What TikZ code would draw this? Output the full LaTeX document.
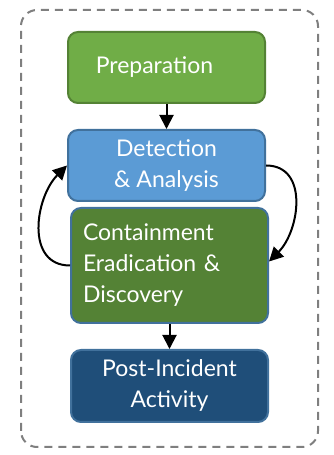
\documentclass[tikz,border=0pt]{standalone}
\usepackage{fontspec}
\setmainfont{Lato}
\usepackage{tikz}
\usetikzlibrary{calc,arrows.meta}
\definecolor{prepgreen}{HTML}{70AD47}
\definecolor{darkgreen}{HTML}{548235}
\definecolor{lightblue}{HTML}{5B9BD5}
\definecolor{edgeblue}{HTML}{41719C}
\definecolor{navy}{HTML}{1F4E79}
\definecolor{framegray}{HTML}{7F7F7F}

\begin{document}
\begin{tikzpicture}[x=1pt, y=1pt,
        phase/.style={draw=edgeblue, line width=2pt, rounded corners=10pt,
            minimum width=197pt, text=white, font=\fontsize{23}{31}\selectfont,
            align=center, inner sep=0pt},
        flow/.style={line width=2pt, -{Triangle[length=14pt,width=14pt]}}]
            \useasboundingbox (0,0) rectangle (333,455);
            \draw[framegray, line width=2pt, dash pattern=on 8pt off 6pt, rounded corners=16pt]
                (21,8) rectangle (318,445);
            \node[phase, fill=prepgreen, draw=darkgreen, minimum height=71pt] (prep) at (166.5,387.5) {Preparation\hspace{24pt}};
            \node[phase, fill=lightblue, minimum height=71pt] (detect) at (166.5,289.5) {Detection\\ \& Analysis};
            \node[phase, fill=darkgreen, minimum height=115pt, text width=173pt, align=left] (contain) at (169.5,189.5) {Containment\\ Eradication \&\\ Discovery};
            \node[phase, fill=navy, minimum height=72pt] (post) at (169.5,69) {Post-Incident\\ Activity};
            \draw[flow] (prep) -- (detect);
            \draw[flow] (contain) -- (post);
            \draw[flow] (contain.west) to[out=180, in=225, looseness=1.15] (detect.west);
            \draw[flow] (detect.east) to[out=0, in=45, looseness=1.15] ($(contain.east)+(0,4)$);
        \end{tikzpicture}
\end{document}
